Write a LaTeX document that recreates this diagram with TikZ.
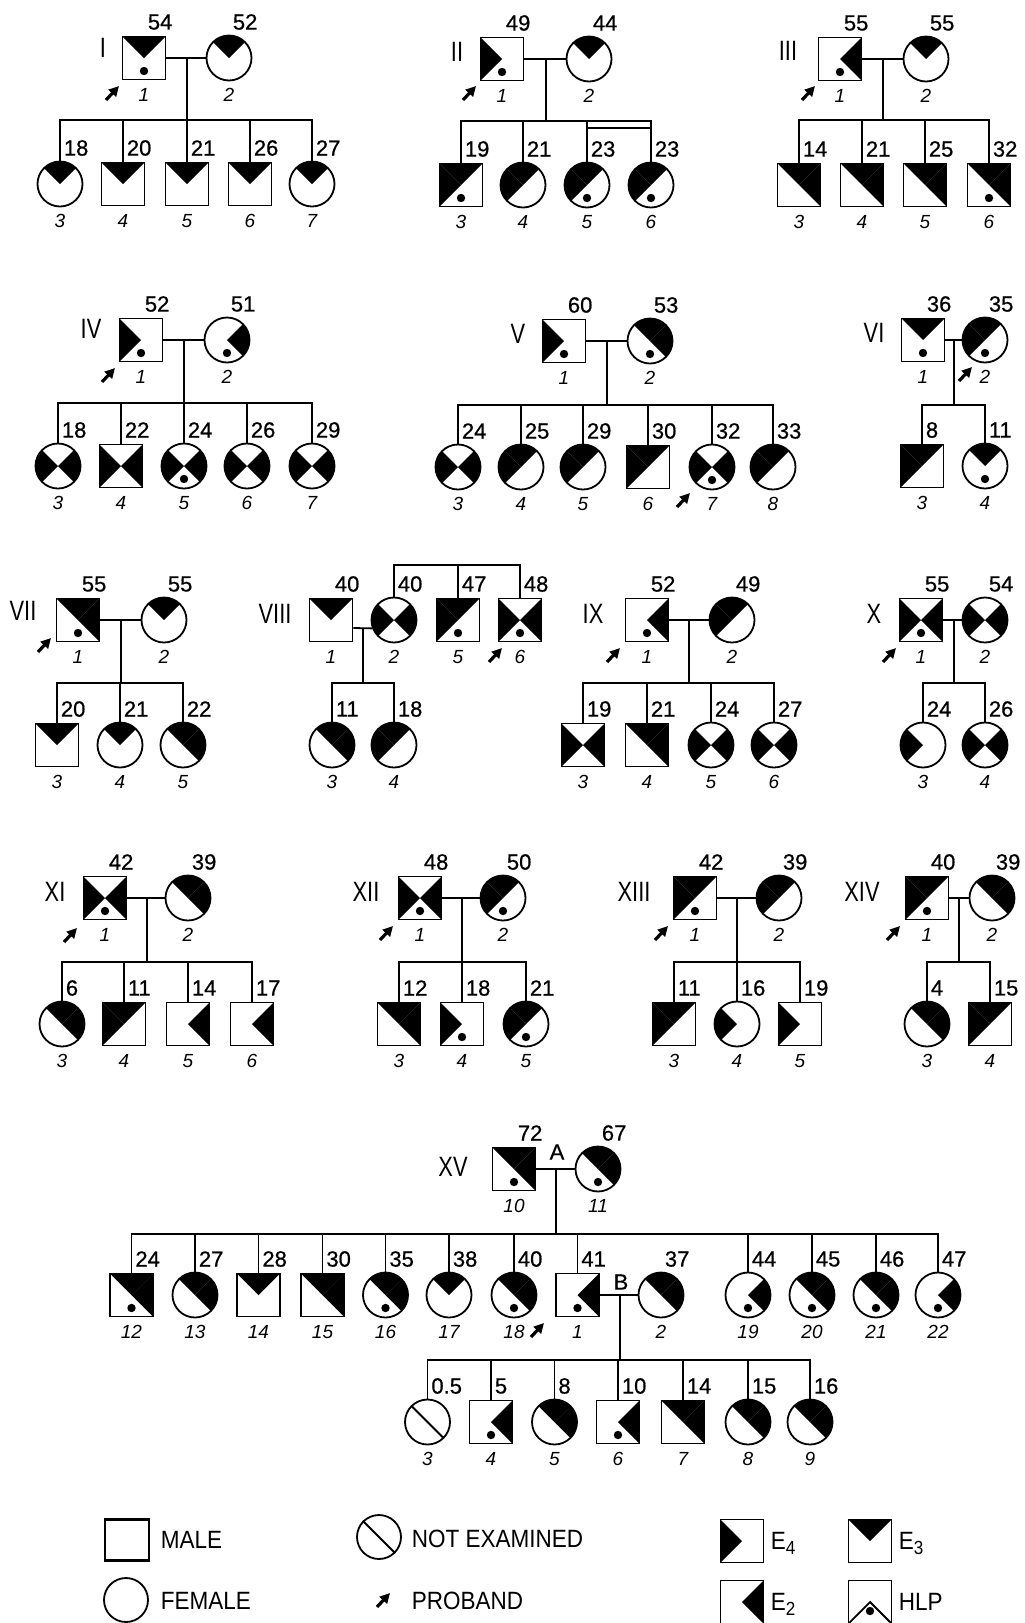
\documentclass[tikz,border=0pt]{standalone}
\usepackage{fontspec}
\setmainfont{Liberation Sans}
\newfontfamily\condsans[FakeStretch=0.9]{Liberation Sans}
\newfontfamily\romsans[FakeStretch=0.78]{Liberation Sans}
\newfontfamily\agesans[FakeBold=0.6]{Liberation Sans}
\usetikzlibrary{arrows.meta}
\newcommand\agefont{\agesans\fontsize{22}{22}\selectfont}
\newcommand\numfont{\fontsize{19}{19}\selectfont\itshape}
\newcommand\romfont{\romsans\fontsize{28}{28}\selectfont}
\newcommand\legfont{\condsans\fontsize{25}{25}\selectfont}
\tikzset{
 sqn/.style={draw, rectangle, minimum width=43pt, minimum height=43pt, inner sep=0pt, line width=1.8pt},
 cin/.style={draw, circle, minimum size=45pt, inner sep=0pt, line width=1.8pt},
 agef/.style={anchor=west, inner sep=0pt, font=\agefont},
 numf/.style={inner sep=0pt, font=\numfont},
 romf/.style={inner sep=0pt, font=\romfont},
 legf/.style={anchor=west, inner sep=0pt, font=\legfont},
}
\newcommand\dofill[4]{%
 \if#1T\fill (#2-#4,#3-#4) -- (#2+#4,#3-#4) -- (#2,#3) -- cycle;\fi
 \if#1L\fill (#2-#4,#3-#4) -- (#2-#4,#3+#4) -- (#2,#3) -- cycle;\fi
 \if#1R\fill (#2+#4,#3-#4) -- (#2+#4,#3+#4) -- (#2,#3) -- cycle;\fi
 \if#1N\draw[line width=1.8pt] (#2-#4,#3-#4) -- (#2+#4,#3+#4);\fi
 \if#1H\draw[line width=1.8pt] (#2-#4,#3+#4) -- (#2,#3) -- (#2+#4,#3+#4);\fi
}
% name, shape s/c, x, y, fills, dot, age, number
\newcommand\person[8]{%
 \if#2s
   \foreach \f in {#5}{\dofill{\f}{#3}{#4}{21.5}}
 \else
   \begin{scope}\clip (#3,#4) circle[radius=22.5];
   \foreach \f in {#5}{\dofill{\f}{#3}{#4}{30}}
   \end{scope}
 \fi
 \ifnum#6=1\relax \fill (#3,#4+13) circle[radius=4.2];\fi
 \if#2s\node[sqn] (#1) at (#3,#4) {};\else\node[cin] (#1) at (#3,#4) {};\fi
 \node[agef] (#1a) at (#3+3,#4-36) {#7};
 \node[numf] (#1n) at (#3,#4+37) {#8};
}
\newcommand\proband[2]{\draw[line width=3.2pt,-{Triangle[length=10pt,width=10pt]}] (#1-6,#2+7) -- (#1+7,#2-7);}
\begin{document}
\begin{tikzpicture}[x=1pt,y=-1pt,line width=1.8pt]
\fill[white] (0,0) rectangle (1025,1623);
\useasboundingbox (0,0) rectangle (1025,1623);

% ---------------- I
\person{I1}{s}{144}{58}{T}{1}{54}{1}
\person{I2}{c}{229}{58}{T}{0}{52}{2}
\person{I3}{c}{60}{184}{T}{0}{18}{3}
\person{I4}{s}{123}{184}{T}{0}{20}{4}
\person{I5}{s}{187}{184}{T}{0}{21}{5}
\person{I6}{s}{250}{184}{T}{0}{26}{6}
\person{I7}{c}{312}{184}{T}{0}{27}{7}
\coordinate (mI) at (187,58); \coordinate (sI) at (187,120);
\draw (I1) -- (I2); \draw (mI) -- (sI);
\foreach \k in {I3,I4,I5,I6,I7} \draw (\k) |- (sI);
\node[romf] (rI) at (103,48) {I};
\proband{112}{93}

% ---------------- II
\person{II1}{s}{502}{59}{L}{1}{49}{1}
\person{II2}{c}{589}{59}{T}{0}{44}{2}
\person{II3}{s}{461}{185}{T,L}{1}{19}{3}
\person{II4}{c}{523}{185}{T,L}{0}{21}{4}
\person{II5}{c}{587}{185}{T,L}{1}{23}{5}
\person{II6}{c}{651}{185}{T,L}{1}{23}{6}
\coordinate (mII) at (546,59); \coordinate (sII) at (546,121);
\draw (II1) -- (II2); \draw (mII) -- (sII);
\foreach \k in {II3,II4,II5,II6} \draw (\k) |- (sII);
\coordinate (twa) at (587,128); \coordinate (twb) at (651,128);
\draw (twa) -- (twb);
\node[romf] (rII) at (457,52) {II};
\proband{469}{93}

% ---------------- III
\person{III1}{s}{840}{59}{R}{1}{55}{1}
\person{III2}{c}{926}{59}{T}{0}{55}{2}
\person{III3}{s}{799}{185}{T,R}{0}{14}{3}
\person{III4}{s}{862}{185}{T,R}{0}{21}{4}
\person{III5}{s}{925}{185}{T,R}{0}{25}{5}
\person{III6}{s}{989}{185}{T,R}{1}{32}{6}
\coordinate (mIII) at (883,59); \coordinate (sIII) at (883,120);
\draw (III1) -- (III2); \draw (mIII) -- (sIII);
\foreach \k in {III3,III4,III5,III6} \draw (\k) |- (sIII);
\node[romf] (rIII) at (788,51) {III};
\proband{808}{93}

% ---------------- IV
\person{IV1}{s}{141}{340}{L}{1}{52}{1}
\person{IV2}{c}{227}{340}{R}{1}{51}{2}
\person{IV3}{c}{58}{466}{L,R}{0}{18}{3}
\person{IV4}{s}{121}{466}{L,R}{0}{22}{4}
\person{IV5}{c}{184}{466}{L,R}{1}{24}{5}
\person{IV6}{c}{247}{466}{L,R}{0}{26}{6}
\person{IV7}{c}{312}{466}{L,R}{0}{29}{7}
\coordinate (mIV) at (184,340); \coordinate (sIV) at (184,403);
\draw (IV1) -- (IV2); \draw (mIV) -- (sIV);
\foreach \k in {IV3,IV4,IV5,IV6,IV7} \draw (\k) |- (sIV);
\node[romf] (rIV) at (91,329) {IV};
\proband{108}{375}

% ---------------- V
\person{V1}{s}{564}{341}{L}{1}{60}{1}
\person{V2}{c}{650}{341}{T,R}{1}{53}{2}
\person{V3}{c}{458}{467}{L,R}{0}{24}{3}
\person{V4}{c}{521}{467}{T,L}{0}{25}{4}
\person{V5}{c}{583}{467}{T,L}{0}{29}{5}
\person{V6}{s}{648}{467}{T,L}{0}{30}{6}
\person{V7}{c}{712}{467}{L,R}{1}{32}{7}
\person{V8}{c}{773}{467}{T,L}{0}{33}{8}
\coordinate (mV) at (607,341); \coordinate (sV) at (607,405);
\draw (V1) -- (V2); \draw (mV) -- (sV);
\foreach \k in {V3,V4,V5,V6,V7,V8} \draw (\k) |- (sV);
\node[romf] (rV) at (518,334) {V};
\proband{683}{500}

% ---------------- VI
\person{VI1}{s}{923}{340}{T}{1}{36}{1}
\person{VI2}{c}{985}{340}{T,L}{1}{35}{2}
\person{VI3}{s}{922}{466}{T,L}{0}{8}{3}
\person{VI4}{c}{985}{466}{T}{1}{11}{4}
\coordinate (mVI) at (954,340); \coordinate (sVI) at (954,405);
\draw (VI1) -- (VI2); \draw (mVI) -- (sVI);
\foreach \k in {VI3,VI4} \draw (\k) |- (sVI);
\node[romf] (rVI) at (874,333) {VI};
\proband{965}{374}

% ---------------- VII
\person{VII1}{s}{78}{620}{T,R}{1}{55}{1}
\person{VII2}{c}{164}{620}{T}{0}{55}{2}
\person{VII3}{s}{57}{745}{T}{0}{20}{3}
\person{VII4}{c}{120}{745}{T}{0}{21}{4}
\person{VII5}{c}{183}{745}{T,R}{0}{22}{5}
\coordinate (mVII) at (121,620); \coordinate (sVII) at (121,683);
\draw (VII1) -- (VII2); \draw (mVII) -- (sVII);
\foreach \k in {VII3,VII4,VII5} \draw (\k) |- (sVII);
\node[romf] (rVII) at (23,611) {VII};
\proband{44}{645}

% ---------------- VIII
\person{VIII1}{s}{331}{620}{T}{0}{40}{1}
\person{VIII2}{c}{394}{620}{L,R}{0}{40}{2}
\person{VIII5}{s}{458}{620}{T,L}{1}{47}{5}
\person{VIII6}{s}{520}{620}{L,R}{1}{48}{6}
\person{VIII3}{c}{332}{745}{T,R}{0}{11}{3}
\person{VIII4}{c}{394}{745}{T,L}{0}{18}{4}
\coordinate (tVIII) at (458,565);
\draw (VIII2) |- (tVIII); \draw (VIII6) |- (tVIII); \draw (VIII5) -- (tVIII);
\coordinate (mVIII) at (363,628); \coordinate (sVIII) at (363,683);
\draw ([yshift=-8pt]VIII1.east) -- (VIII2.201); \draw (mVIII) -- (sVIII);
\foreach \k in {VIII3,VIII4} \draw (\k) |- (sVIII);
\node[romf] (rVIII) at (275,614) {VIII};
\proband{495}{655}

% ---------------- IX
\person{IX1}{s}{647}{620}{R}{1}{52}{1}
\person{IX2}{c}{732}{620}{T,L}{0}{49}{2}
\person{IX3}{s}{583}{745}{L,R}{0}{19}{3}
\person{IX4}{s}{647}{745}{T,R}{0}{21}{4}
\person{IX5}{c}{711}{745}{L,R}{0}{24}{5}
\person{IX6}{c}{774}{745}{L,R}{0}{27}{6}
\coordinate (mIX) at (689,620); \coordinate (sIX) at (689,683);
\draw (IX1) -- (IX2); \draw (mIX) -- (sIX);
\foreach \k in {IX3,IX4,IX5,IX6} \draw (\k) |- (sIX);
\node[romf] (rIX) at (593,614) {IX};
\proband{613}{655}

% ---------------- X
\person{X1}{s}{921}{620}{L,R}{1}{55}{1}
\person{X2}{c}{985}{620}{L,R}{0}{54}{2}
\person{X3}{c}{923}{745}{L}{0}{24}{3}
\person{X4}{c}{985}{745}{L,R}{0}{26}{4}
\coordinate (mX) at (954,620); \coordinate (sX) at (954,683);
\draw (X1) -- (X2); \draw (mX) -- (sX);
\foreach \k in {X3,X4} \draw (\k) |- (sX);
\node[romf] (rX) at (874,614) {X};
\proband{889}{655}

% ---------------- XI
\person{XI1}{s}{105}{898}{L,R}{1}{42}{1}
\person{XI2}{c}{188}{898}{T,R}{0}{39}{2}
\person{XI3}{c}{62}{1024}{T,R}{0}{6}{3}
\person{XI4}{s}{124}{1024}{T,L}{0}{11}{4}
\person{XI5}{s}{188}{1024}{R}{0}{14}{5}
\person{XI6}{s}{252}{1024}{R}{0}{17}{6}
\coordinate (mXI) at (147,898); \coordinate (sXI) at (147,962);
\draw (XI1) -- (XI2); \draw (mXI) -- (sXI);
\foreach \k in {XI3,XI4,XI5,XI6} \draw (\k) |- (sXI);
\node[romf] (rXI) at (55,892) {XI};
\proband{70}{935}

% ---------------- XII
\person{XII1}{s}{420}{898}{L,R}{1}{48}{1}
\person{XII2}{c}{503}{898}{T,L}{1}{50}{2}
\person{XII3}{s}{399}{1024}{T,R}{0}{12}{3}
\person{XII4}{s}{462}{1024}{L}{1}{18}{4}
\person{XII5}{c}{526}{1024}{T,L}{1}{21}{5}
\coordinate (mXII) at (462,898); \coordinate (sXII) at (462,962);
\draw (XII1) -- (XII2); \draw (mXII) -- (sXII);
\foreach \k in {XII3,XII4,XII5} \draw (\k) |- (sXII);
\node[romf] (rXII) at (366,892) {XII};
\proband{386}{933}

% ---------------- XIII
\person{XIII1}{s}{695}{898}{T,L}{1}{42}{1}
\person{XIII2}{c}{779}{898}{T,L}{0}{39}{2}
\person{XIII3}{s}{674}{1024}{T,L}{0}{11}{3}
\person{XIII4}{c}{737}{1024}{L}{0}{16}{4}
\person{XIII5}{s}{800}{1024}{L}{0}{19}{5}
\coordinate (mXIII) at (737,898); \coordinate (sXIII) at (737,962);
\draw (XIII1) -- (XIII2); \draw (mXIII) -- (sXIII);
\foreach \k in {XIII3,XIII4,XIII5} \draw (\k) |- (sXIII);
\node[romf] (rXIII) at (634,892) {XIII};
\proband{661}{933}

% ---------------- XIV
\person{XIV1}{s}{927}{898}{T,L}{1}{40}{1}
\person{XIV2}{c}{992}{898}{T,R}{0}{39}{2}
\person{XIV3}{c}{927}{1024}{T,R}{0}{4}{3}
\person{XIV4}{s}{990}{1024}{T,L}{0}{15}{4}
\coordinate (mXIV) at (959,898); \coordinate (sXIV) at (959,962);
\draw (XIV1) -- (XIV2); \draw (mXIV) -- (sXIV);
\foreach \k in {XIV3,XIV4} \draw (\k) |- (sXIV);
\node[romf] (rXIV) at (862,892) {XIV};
\proband{893}{933}

% ---------------- XV
\person{XV10}{s}{514}{1169}{T,R}{1}{72}{10}
\person{XV11}{c}{598}{1169}{T,R}{1}{67}{11}
\coordinate (mXV) at (556,1169); \coordinate (sXV) at (556,1234);
\draw (XV10) -- (XV11); \draw (mXV) -- (sXV);
\node[font=\agefont, inner sep=0pt] (lA) at (557,1152) {A};
\node[romf] (rXV) at (453,1167) {XV};
\person{XV12}{s}{131.5}{1295}{T,R}{1}{24}{12}
\person{XV13}{c}{195}{1295}{T,R}{0}{27}{13}
\person{XV14}{s}{258.5}{1295}{T}{0}{28}{14}
\person{XV15}{s}{322.5}{1295}{T,R}{0}{30}{15}
\person{XV16}{c}{385.5}{1295}{T,R}{1}{35}{16}
\person{XV17}{c}{449}{1295}{T}{0}{38}{17}
\person{XV18}{c}{514}{1295}{T,R}{1}{40}{18}
\person{XVb1}{s}{577.5}{1295}{R}{1}{41}{1}
\person{XVb2}{c}{661}{1295}{T,R}{0}{37}{2}
\person{XV19}{c}{748}{1295}{R}{1}{44}{19}
\person{XV20}{c}{812}{1295}{T,R}{1}{45}{20}
\person{XV21}{c}{876}{1295}{T,R}{1}{46}{21}
\person{XV22}{c}{938}{1295}{R}{1}{47}{22}
\foreach \k in {XV12,XV13,XV14,XV15,XV16,XV17,XV18,XVb1,XV19,XV20,XV21,XV22} \draw (\k) |- (sXV);
\proband{537}{1330}
\coordinate (mB) at (620,1295); \coordinate (sB) at (620,1360);
\draw (XVb1) -- (XVb2); \draw (mB) -- (sB);
\node[font=\agefont, inner sep=0pt] (lB) at (621,1282) {B};
\person{XVc3}{c}{427.5}{1422}{N}{0}{0.5}{3}
\person{XVc4}{s}{491}{1422}{R}{1}{5}{4}
\person{XVc5}{c}{554.5}{1422}{T,R}{0}{8}{5}
\person{XVc6}{s}{618}{1422}{R}{1}{10}{6}
\person{XVc7}{s}{683}{1422}{T,R}{0}{14}{7}
\person{XVc8}{c}{748}{1422}{T,R}{0}{15}{8}
\person{XVc9}{c}{810}{1422}{T,R}{0}{16}{9}
\foreach \k in {XVc3,XVc4,XVc5,XVc6,XVc7,XVc8,XVc9} \draw (\k) |- (sB);

% ---------------- legend
\node[sqn, line width=2.8pt, minimum width=44pt, minimum height=41pt] (lmale) at (127,1540) {};
\node[legf] (tmale) at (160,1540) {MALE};
\node[cin, minimum size=44pt] (lfem) at (126,1600) {};
\node[legf] (tfem) at (160,1601) {FEMALE};
\node[cin, minimum size=44pt] (lne) at (379,1537) {};
\draw (lne.135) -- (lne.-45);
\node[legf] (tne) at (411,1539) {NOT EXAMINED};
\proband{383}{1600}
\node[legf] (tpro) at (411,1601) {PROBAND};
\foreach \f in {L}{\dofill{\f}{742}{1541}{21.5}}
\node[sqn] (lE4) at (742,1541) {};
\node[legf] (tE4) at (770,1543) {E\raisebox{-5pt}{\fontsize{19}{19}\selectfont 4}};
\foreach \f in {T}{\dofill{\f}{870}{1541}{21.5}}
\node[sqn] (lE3) at (870,1541) {};
\node[legf] (tE3) at (898,1543) {E\raisebox{-5pt}{\fontsize{19}{19}\selectfont 3}};
\foreach \f in {R}{\dofill{\f}{742}{1602}{21.5}}
\node[sqn] (lE2) at (742,1602) {};
\node[legf] (tE2) at (770,1604) {E\raisebox{-5pt}{\fontsize{19}{19}\selectfont 2}};
\foreach \f in {H}{\dofill{\f}{870}{1602}{21.5}}
\fill (870,1611) circle[radius=4.2];
\node[sqn] (lHLP) at (870,1602) {};
\node[legf] (tHLP) at (898,1602) {HLP};
\end{tikzpicture}
\end{document}
